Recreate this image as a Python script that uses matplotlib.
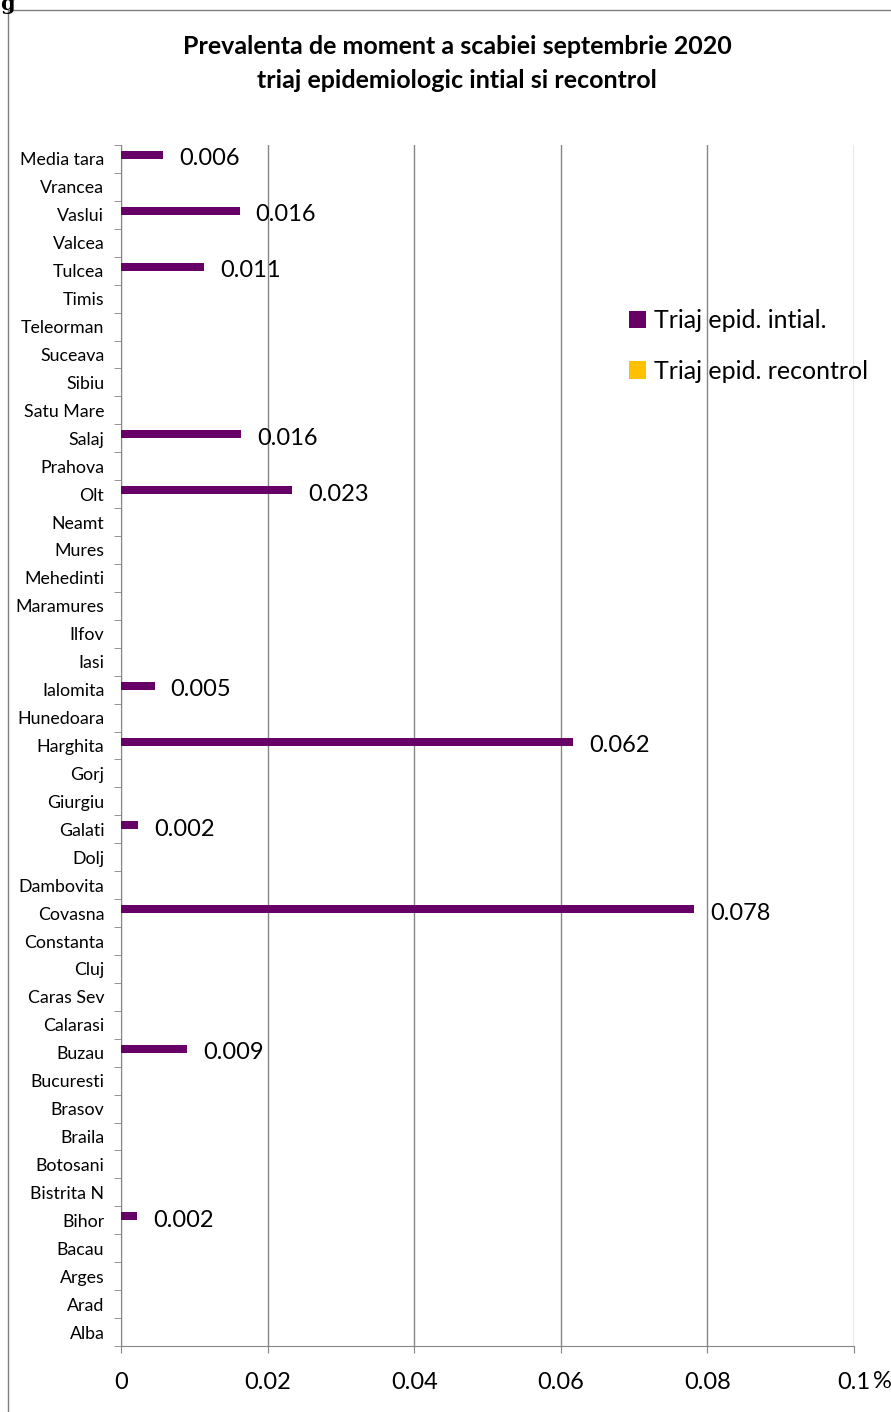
import matplotlib.pyplot as plt
import numpy as np

# categories listed bottom -> top
judete = ["Alba", "Arad", "Arges", "Bacau", "Bihor", "Bistrita N", "Botosani",
          "Braila", "Brasov", "Bucuresti", "Buzau", "Calarasi", "Caras Sev",
          "Cluj", "Constanta", "Covasna", "Dambovita", "Dolj", "Galati",
          "Giurgiu", "Gorj", "Harghita", "Hunedoara", "Ialomita", "Iasi",
          "Ilfov", "Maramures", "Mehedinti", "Mures", "Neamt", "Olt",
          "Prahova", "Salaj", "Satu Mare", "Sibiu", "Suceava", "Teleorman",
          "Timis", "Tulcea", "Valcea", "Vaslui", "Vrancea", "Media tara"]

intial = {"Media tara": 0.0057, "Vaslui": 0.0162, "Tulcea": 0.0113,
          "Salaj": 0.0164, "Olt": 0.0233, "Ialomita": 0.0046,
          "Harghita": 0.0617, "Galati": 0.0023, "Covasna": 0.0782,
          "Buzau": 0.0090, "Bihor": 0.0022}
triaj_intial = [intial.get(j, 0.0) for j in judete]
triaj_recontrol = [0.0 for j in judete]

x_ticks = [0, 0.02, 0.04, 0.06, 0.08, 0.1]
x_labels = ["0", "0.02", "0.04", "0.06", "0.08", "0.1"]


def main():
    plt.rcParams['font.family'] = ['Lato', 'DejaVu Sans']
    fig = plt.figure(figsize=(8.91, 14.12), dpi=100)
    ax = fig.add_axes([121 / 891, 66 / 1412, 733 / 891, 1201 / 1412])

    y = np.arange(len(judete))
    h = 0.28
    ax.barh(y + h / 2, triaj_intial, height=h, color="#660066",
            label="Triaj epid. intial.", zorder=3)
    ax.barh(y - h / 2, triaj_recontrol, height=h, color="#FFC000",
            label="Triaj epid. recontrol", zorder=3)

    for yi, v in zip(y, triaj_intial):
        if v > 0:
            ax.annotate("%.3f" % v, (v, yi), xytext=(11.5, 0),
                        textcoords="offset points", va="center", ha="left",
                        fontsize=17)

    ax.set_xlim(0, 0.1)
    ax.set_ylim(-0.5, len(judete) - 0.5)
    ax.set_xticks(x_ticks)
    ax.set_xticklabels(x_labels, fontsize=17)
    ax.set_yticks(y)
    ax.set_yticklabels(judete, fontsize=12.8)
    ax.set_yticks(np.arange(-0.5, len(judete), 1), minor=True)
    ax.tick_params(axis="y", which="major", length=0, pad=12)
    ax.tick_params(axis="y", which="minor", length=5, color="#868686",
                   direction="out")
    ax.tick_params(axis="x", length=5, color="#868686", pad=14)
    fig.text(873 / 891, 1 - 1381 / 1412, "%", fontsize=17,
             ha="left", va="center")

    ax.grid(axis="x", color="#868686", linewidth=1, zorder=0)
    for s in ["top", "right"]:
        ax.spines[s].set_visible(False)
    ax.spines["left"].set_color("#868686")
    ax.spines["bottom"].set_color("#868686")

    ax.legend(loc="upper left", bbox_to_anchor=(0.662, 0.882), frameon=False,
              fontsize=18, handlelength=0.7, handleheight=0.7,
              handletextpad=0.3, labelspacing=1.1)

    fig.text(457 / 891, 1 - 47 / 1412,
             "Prevalenta de moment a scabiei septembrie 2020",
             ha="center", va="center", fontsize=18, fontweight="bold")
    fig.text(457 / 891, 1 - 80 / 1412,
             "triaj epidemiologic intial si recontrol",
             ha="center", va="center", fontsize=18, fontweight="bold")

    # outer chart frame (partly cut off in the original)
    fig.add_artist(plt.Line2D([8 / 891, 8 / 891], [0, 1 - 10 / 1412],
                              transform=fig.transFigure, color="#7f7f7f",
                              linewidth=1))
    fig.add_artist(plt.Line2D([8 / 891, 1], [1 - 10 / 1412, 1 - 10 / 1412],
                              transform=fig.transFigure, color="#7f7f7f",
                              linewidth=1))
    fig.text(0, 1 - 4 / 1412, "g", ha="left", va="center", fontsize=15,
             fontweight="bold", family="DejaVu Serif")

    fig.savefig("out.png", dpi=100)


if __name__ == '__main__':
    main()
